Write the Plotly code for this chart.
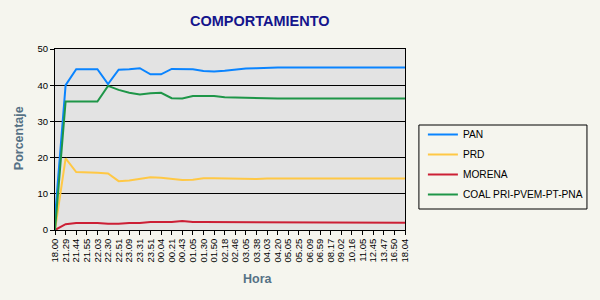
import plotly.graph_objects as go

horas = ["18.00", "21.29", "21.44", "21.55", "22.03", "22.30", "22.51", "23.09", "23.31", "23.51",
         "00.04", "00.21", "00.43", "01.05", "01.30", "01.50", "02.18", "02.46", "03.05", "03.38",
         "04.03", "04.20", "05.05", "05.25", "06.09", "06.59", "08.17", "09.02", "10.16", "11.05",
         "12.45", "13.47", "16.50", "18.04"]

pan = [3.5, 40.0, 44.4, 44.4, 44.4, 40.3, 44.3, 44.4, 44.7, 43.0,
       43.0, 44.5, 44.5, 44.4, 43.9, 43.8, 44.0, 44.4, 44.6, 44.7,
       44.9, 44.9, 44.9, 44.9, 44.9, 44.9, 44.9, 44.9, 44.9, 44.9,
       44.9, 44.9, 44.9, 44.9]
prd = [0.0, 19.8, 16.0, 16.0, 15.8, 15.6, 13.5, 13.7, 14.2, 14.6,
       14.4, 14.1, 13.8, 13.9, 14.3, 14.3, 14.2, 14.2, 14.1, 14.1,
       14.2, 14.2, 14.2, 14.2, 14.2, 14.2, 14.2, 14.2, 14.2, 14.2,
       14.2, 14.2, 14.2, 14.2]
morena = [0.0, 1.6, 1.9, 1.95, 1.95, 1.7, 1.7, 1.95, 1.95, 2.2,
          2.2, 2.2, 2.5, 2.2, 2.2, 2.2, 2.2, 2.2, 2.0, 2.0,
          2.0, 2.0, 2.0, 2.0, 2.0, 2.0, 2.0, 2.0, 2.0, 2.0,
          2.0, 2.0, 2.0, 2.0]
coal = [0.0, 35.5, 35.5, 35.5, 35.5, 39.8, 38.7, 37.9, 37.4, 37.8,
        37.9, 36.4, 36.3, 37.0, 37.0, 37.0, 36.7, 36.6, 36.5, 36.3,
        36.3, 36.3, 36.3, 36.3, 36.3, 36.3, 36.3, 36.3, 36.3, 36.3,
        36.3, 36.3, 36.3, 36.3]

series = [("PAN", pan, "#0a84ff"), ("PRD", prd, "#ffc845"),
          ("MORENA", morena, "#cc1f35"), ("COAL PRI-PVEM-PT-PNA", coal, "#1e9648")]

FONT = "Liberation Sans"
fig = go.Figure()
for name, vals, col in series:
    fig.add_trace(go.Scatter(x=horas, y=vals, name=name, mode="lines", legendgroup=name,
                             line=dict(color=col, width=2)))


def px_x(p):
    return (p - 55) / 352.0


def px_y(p):
    return (230 - p) / 181.0


fig.update_layout(
    width=600, height=300,
    margin=dict(l=55, r=193, t=49, b=70),
    paper_bgcolor="#f5f5ee", plot_bgcolor="#e3e3e3",
    font=dict(family=FONT, size=11, color="black"),
    showlegend=True,
    legend=dict(x=px_x(425), y=px_y(120), xanchor="left", yanchor="top",
                borderwidth=0, bgcolor="rgba(0,0,0,0)",
                font=dict(family=FONT, size=10.2, color="black"),
                tracegroupgap=1),
    shapes=[
        dict(type="rect", xref="paper", yref="paper",
             x0=px_x(421), x1=px_x(590), y0=px_y(209), y1=px_y(125),
             line=dict(color="black", width=1), fillcolor="rgba(0,0,0,0)", layer="below"),
    ],
    annotations=[
        dict(text="<b>COMPORTAMIENTO</b>", x=px_x(261), y=px_y(21), xref="paper", yref="paper",
             xanchor="center", yanchor="middle",
             showarrow=False, font=dict(family=FONT, size=14.5, color="#14148c")),
        dict(text="<b>Hora</b>", x=px_x(259), y=px_y(279), xref="paper", yref="paper",
             xanchor="center", yanchor="middle",
             showarrow=False, font=dict(family=FONT, size=12.5, color="#557185")),
        dict(text="<b>Porcentaje</b>", x=px_x(19), y=px_y(138), xref="paper", yref="paper",
             xanchor="center", yanchor="middle", textangle=-90,
             showarrow=False, font=dict(family=FONT, size=12.5, color="#557185")),
    ],
)

fig.update_xaxes(type="category", range=[0, len(horas) - 1], tickangle=-90,
                 tickmode="array", tickvals=horas, ticktext=horas,
                 showgrid=False, showline=True, linecolor="black", linewidth=1, mirror=True,
                 ticks="outside", ticklen=4, tickcolor="black",
                 tickfont=dict(family=FONT, size=9.5, color="black"))
fig.update_yaxes(range=[0, 50], dtick=10, showgrid=True, gridcolor="black", gridwidth=1,
                 zeroline=False, showline=True, linecolor="black", linewidth=1, mirror=True,
                 ticks="outside", ticklen=4, tickcolor="black",
                 tickfont=dict(family=FONT, size=9.5, color="black"))

fig.write_html("out.html")
